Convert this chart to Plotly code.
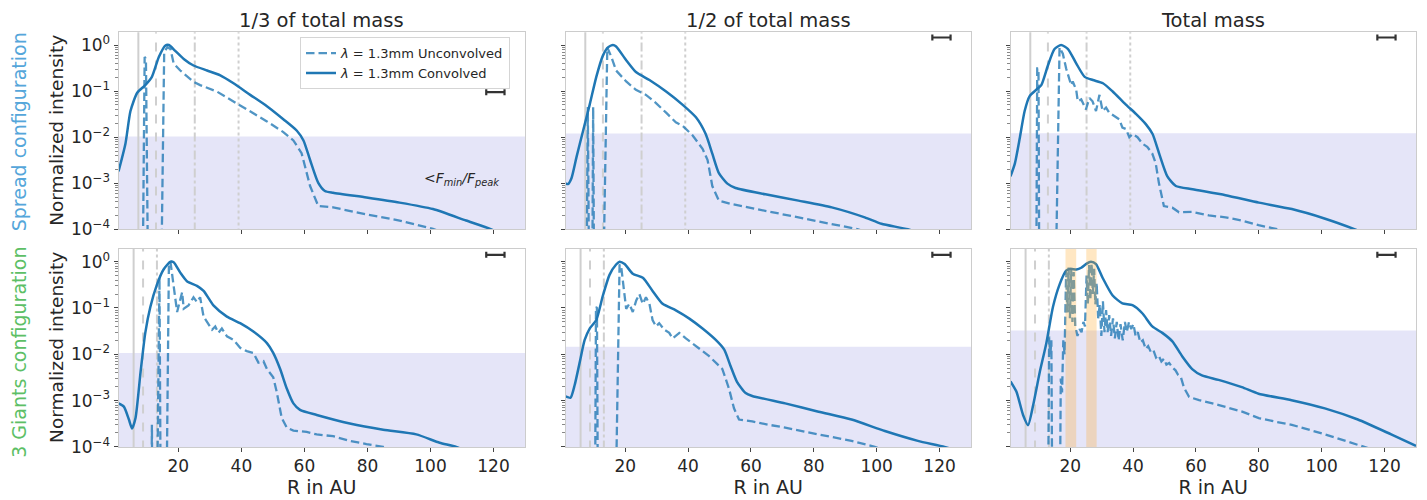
import plotly.graph_objects as go

# ---------------- text ----------------
COLUMN_TITLES = ["1/3 of total mass", "1/2 of total mass", "Total mass"]
ROW_TITLES = ["Spread configuration", "3 Giants configuration"]
ROW_COLORS = ["#55a6da", "#5dbf66"]
Y_TITLE = "Normalized intensity"
X_TITLE = "R in AU"
LEGEND_NAMES = ["<i>λ</i> = 1.3mm Unconvolved", "<i>λ</i> = 1.3mm Convolved"]
THRESH_LABEL = "<i>&lt;F<sub>min</sub>/F<sub>peak</sub></i>"

X_TICKS = [20, 40, 60, 80, 100, 120]
Y_TICK_VALUES = [1e-4, 1e-3, 1e-2, 1e-1, 1.0]
Y_TICK_LABELS = ["10<sup>−4</sup>", "10<sup>−3</sup>", "10<sup>−2</sup>", "10<sup>−1</sup>", "10<sup>0</sup>"]
Y_MINOR_VALUES = [k * 10.0 ** e for e in range(-4, 1) for k in range(2, 10)]

# planet positions (AU) and their line styles
SPREAD_PLANETS = [7.3, 12.9, 25.2, 39.1]
GIANTS_PLANETS = [5.8, 8.8, 13.2]
PLANET_STYLES = ["solid", "dash", "dashdot", "dot"]

# sensitivity threshold F_min/F_peak per panel (row-major)
THRESHOLDS = [0.0104, 0.0120, 0.0122, 0.0106, 0.0146, 0.0325]
# gaps highlighted in bottom-right panel
GAP_BANDS = [[18.5, 21.9], [25.1, 28.4]]
# beam size marker (AU)
BEAM_CENTER = 120.6
BEAM_HALF = 2.9
BEAM_Y = [0.095, 1.46, 1.46, 1.41, 1.41, 1.41]

# ---------------- data ----------------
# Spread configuration, 1/3 mass
tl_conv_r = [1.0, 3.2, 4.8, 6.9, 9.5, 11.6, 13.8, 15.9, 17.0, 18.9, 21.7, 24.8, 29.1, 33.3, 37.5, 42.8, 48.1, 53.3, 57.6, 59.7, 61.8, 64.4, 66.5, 69.1, 79.7, 90.2, 100.8, 111.3, 119.3, 125.0]
tl_conv_i = [1.8e-3, 7.2e-3, 0.037, 0.091, 0.135, 0.204, 0.55, 0.98, 1.0, 0.76, 0.50, 0.36, 0.28, 0.22, 0.148, 0.083, 0.047, 0.0245, 0.0138, 8.5e-3, 3.2e-3, 1.02e-3, 6.8e-4, 6.2e-4, 4.9e-4, 3.8e-4, 2.75e-4, 1.55e-4, 1.0e-4, 6.3e-5]
tl_unconv_r = [8.3, 9.3, 9.7, 10.8, 14.0, 15.5, 16.5, 17.5, 18.5, 20.6, 24.8, 26.9, 32.2, 37.5, 42.8, 48.1, 53.3, 56.5, 59.1, 61.8, 64.4, 69.1, 79.7, 90.2, 100.8, 104.0]
tl_unconv_i = [1e-8, 0.55, 0.5, 1e-8, 1e-8, 0.7, 0.9, 0.82, 0.40, 0.28, 0.16, 0.135, 0.098, 0.060, 0.037, 0.022, 0.0129, 8.5e-3, 4.5e-3, 8.7e-4, 3.2e-4, 3.0e-4, 2.1e-4, 1.55e-4, 1.02e-4, 8.5e-5]

# Spread configuration, 1/2 mass
tm_conv_r = [1.0, 1.8, 2.9, 4.5, 6.6, 8.7, 10.8, 12.9, 14.5, 16.1, 17.1, 20.3, 23.4, 27.7, 33.0, 38.2, 42.5, 45.6, 47.7, 49.8, 52.5, 55.1, 64.6, 75.1, 85.7, 96.2, 101.5, 109.9, 116.0]
tm_conv_i = [1.0e-3, 9.6e-4, 1.29e-3, 3.7e-3, 0.0138, 0.051, 0.204, 0.59, 0.89, 1.0, 0.93, 0.47, 0.26, 0.174, 0.098, 0.051, 0.027, 0.0117, 4.4e-3, 1.66e-3, 9.8e-4, 7.9e-4, 5.75e-4, 4.2e-4, 3.0e-4, 1.82e-4, 1.32e-4, 1.0e-4, 7.1e-5]
tm_unconv_r = [7.4, 8.1, 8.8, 9.3, 9.8, 10.3, 12.3, 14.3, 15.6, 17.1, 20.3, 23.4, 26.6, 29.8, 33.0, 36.1, 38.2, 41.4, 44.6, 46.2, 47.7, 49.8, 54.1, 64.6, 75.1, 85.7, 94.1, 98.0]
tm_unconv_i = [1e-8, 0.045, 1e-8, 1e-8, 0.045, 1e-8, 1e-8, 0.89, 0.55, 0.28, 0.162, 0.107, 0.083, 0.055, 0.034, 0.021, 0.0178, 0.011, 5.6e-3, 3.2e-3, 8.7e-4, 4.2e-4, 3.5e-4, 2.5e-4, 1.82e-4, 1.32e-4, 1.0e-4, 7.9e-5]

# Spread configuration, total mass
tr_conv_r = [1.0, 2.4, 4.0, 5.5, 7.1, 9.2, 10.8, 12.9, 15.0, 17.1, 19.3, 21.9, 24.6, 27.2, 30.4, 33.5, 37.7, 40.9, 44.1, 46.2, 48.3, 50.9, 53.6, 58.9, 69.4, 80.0, 90.5, 101.1, 110.6, 116.0]
tr_conv_i = [1.41e-3, 2.7e-3, 0.01, 0.037, 0.078, 0.107, 0.135, 0.36, 0.82, 1.0, 0.82, 0.40, 0.204, 0.174, 0.148, 0.098, 0.051, 0.032, 0.019, 0.0117, 4.4e-3, 1.41e-3, 8.7e-4, 7.4e-4, 5.5e-4, 3.8e-4, 2.75e-4, 1.7e-4, 1.0e-4, 7.1e-5]
tr_unconv_r = [9.0, 9.5, 9.9, 10.3, 14.7, 16.6, 17.65, 18.7, 20.3, 20.8, 21.9, 22.4, 23.5, 25.0, 26.1, 27.1, 28.2, 29.3, 30.3, 31.4, 32.4, 34.0, 35.6, 36.6, 37.7, 38.8, 39.8, 41.4, 43.0, 44.5, 46.1, 47.2, 48.2, 49.8, 52.5, 54.6, 58.8, 64.1, 69.4, 74.6, 79.9, 86.2, 92.0]
tr_unconv_i = [1e-8, 0.31, 0.31, 1e-8, 1e-8, 0.89, 0.65, 0.31, 0.135, 0.162, 0.107, 0.060, 0.066, 0.040, 0.071, 0.060, 0.037, 0.083, 0.037, 0.044, 0.034, 0.029, 0.0245, 0.0162, 0.0151, 0.010, 0.0117, 0.010, 7.2e-3, 6.2e-3, 4.4e-3, 2.7e-3, 1.02e-3, 3.2e-4, 2.95e-4, 2.35e-4, 2.4e-4, 2.0e-4, 1.82e-4, 1.55e-4, 1.23e-4, 1.0e-4, 8e-5]

# 3 Giants configuration, 1/3 mass
bl_conv_r = [1.0, 2.7, 4.3, 5.3, 6.4, 8.0, 9.5, 11.1, 13.2, 15.3, 17.5, 18.5, 20.6, 22.7, 25.9, 28.0, 31.2, 35.4, 39.6, 43.8, 48.1, 50.1, 52.3, 54.4, 56.5, 58.6, 63.9, 74.4, 85.0, 95.5, 102.9, 108.2, 114.0]
bl_conv_i = [8.7e-4, 7.4e-4, 3.9e-4, 2.5e-4, 4.2e-4, 4.1e-3, 0.029, 0.105, 0.32, 0.68, 1.0, 0.97, 0.58, 0.38, 0.30, 0.234, 0.112, 0.065, 0.047, 0.031, 0.0174, 0.0107, 4.8e-3, 1.82e-3, 8.7e-4, 6.3e-4, 4.9e-4, 3.2e-4, 2.35e-4, 1.86e-4, 1.23e-4, 1.0e-4, 6.5e-5]
bl_unconv_r = [11.2, 11.6, 12.0, 12.8, 14.0, 14.6, 15.8, 17.0, 17.5, 18.5, 19.6, 21.2, 21.7, 23.2, 24.8, 25.9, 26.9, 28.0, 29.1, 30.7, 31.7, 32.7, 33.8, 35.4, 37.5, 39.6, 41.7, 43.8, 45.4, 47.0, 48.1, 50.1, 51.2, 52.8, 54.4, 56.5, 60.7, 63.9, 69.1, 74.4, 79.7, 85.0, 90.0]
bl_unconv_i = [1e-8, 3e-4, 1e-8, 1e-8, 0.45, 1e-8, 1e-8, 0.95, 0.98, 0.32, 0.082, 0.22, 0.096, 0.113, 0.17, 0.134, 0.17, 0.065, 0.050, 0.034, 0.040, 0.029, 0.036, 0.0245, 0.0205, 0.0138, 0.0117, 0.0107, 6.6e-3, 7.1e-3, 4.8e-3, 3.2e-3, 1.55e-3, 4.2e-4, 2.6e-4, 2.25e-4, 2.1e-4, 1.86e-4, 1.7e-4, 1.35e-4, 1.15e-4, 1.0e-4, 8e-5]

# 3 Giants configuration, 1/2 mass
bm_conv_r = [1.0, 2.6, 3.9, 5.5, 7.1, 8.7, 10.8, 12.9, 15.0, 17.1, 18.2, 19.8, 22.4, 25.6, 28.7, 31.9, 36.1, 40.4, 44.6, 48.8, 51.5, 53.5, 55.6, 58.3, 60.4, 70.9, 81.5, 92.0, 102.6, 113.1, 121.6, 126.0]
bm_conv_i = [1.23e-3, 1.15e-3, 2.14e-3, 6.6e-3, 0.0204, 0.036, 0.055, 0.186, 0.52, 0.87, 1.0, 0.89, 0.55, 0.45, 0.234, 0.123, 0.089, 0.059, 0.036, 0.0204, 0.0126, 5.6e-3, 2.5e-3, 1.45e-3, 1.26e-3, 8.7e-4, 5.75e-4, 3.9e-4, 2.2e-4, 1.35e-4, 1.0e-4, 8e-5]
bm_unconv_r = [10.2, 10.7, 11.0, 11.5, 16.3, 18.2, 18.7, 19.2, 20.3, 21.3, 22.4, 23.5, 24.5, 25.6, 26.6, 27.7, 28.7, 29.8, 30.8, 32.4, 34.0, 35.1, 37.2, 39.3, 41.4, 44.0, 46.7, 49.3, 50.9, 53.0, 54.6, 56.2, 60.4, 65.7, 70.9, 81.5, 92.0, 99.4, 104.0]
bm_unconv_i = [1e-8, 0.105, 0.1, 1e-8, 1e-8, 0.87, 0.8, 0.38, 0.096, 0.123, 0.082, 0.145, 0.2, 0.123, 0.17, 0.123, 0.055, 0.040, 0.047, 0.034, 0.029, 0.022, 0.029, 0.022, 0.0174, 0.0126, 9.1e-3, 6.0e-3, 4.8e-3, 1.82e-3, 6.8e-4, 3.9e-4, 3.55e-4, 3.0e-4, 2.6e-4, 1.86e-4, 1.35e-4, 1.0e-4, 8e-5]

# 3 Giants configuration, total mass
br_conv_r = [1.0, 2.9, 5.0, 6.6, 8.2, 10.3, 12.4, 14.5, 16.6, 18.7, 20.0, 22.0, 23.5, 25.1, 26.6, 28.2, 30.3, 33.5, 36.6, 39.8, 43.0, 46.1, 49.3, 52.5, 55.6, 58.8, 61.9, 67.2, 74.6, 79.9, 90.4, 101.0, 111.5, 122.1, 130.0]
br_conv_i = [2.6e-3, 1.55e-3, 4.9e-4, 2.95e-4, 7.9e-4, 4.1e-3, 0.0174, 0.105, 0.32, 0.64, 0.70, 0.68, 0.74, 0.9, 1.0, 0.89, 0.45, 0.186, 0.126, 0.115, 0.076, 0.040, 0.029, 0.019, 9.1e-3, 4.8e-3, 3.5e-3, 2.8e-3, 1.95e-3, 1.41e-3, 1.02e-3, 6.8e-4, 3.9e-4, 1.86e-4, 1.05e-4]
br_unconv_r = [12.7, 13.3, 13.7, 14.0, 14.5, 16.4, 17.0, 17.4, 17.8, 18.2, 18.7, 19.1, 19.5, 19.9, 20.3, 20.7, 21.1, 21.6, 22.3, 23.0, 23.6, 24.2, 24.7, 25.2, 25.6, 26.0, 26.4, 26.8, 27.2, 27.6, 28.0, 28.4, 28.9, 29.4, 29.9, 30.4, 30.9, 31.4, 31.9, 32.4, 33.0, 33.6, 34.2, 34.8, 35.4, 36.0, 36.7, 37.4, 38.0, 38.7, 39.4, 40.1, 40.8, 41.5, 42.3, 43.1, 44.0, 44.8, 45.7, 46.5, 47.3, 48.1, 49.0, 49.8, 50.6, 51.5, 52.5, 53.5, 54.3, 55.2, 56.2, 57.8, 61.0, 67.3, 74.7, 80.0, 85.3, 90.5, 101.1, 113.7, 118.0]
br_unconv_i = [1e-8, 0.024, 0.01, 0.02, 1e-8, 1e-8, 3e-3, 1.5e-3, 0.02, 0.01, 0.6, 0.08, 0.75, 0.06, 0.7, 0.05, 0.6, 0.04, 0.025, 0.035, 0.03, 0.05, 0.04, 0.5, 0.12, 0.85, 0.15, 0.9, 0.2, 0.7, 0.12, 0.35, 0.06, 0.12, 0.025, 0.14, 0.03, 0.09, 0.03, 0.07, 0.025, 0.06, 0.022, 0.05, 0.02, 0.045, 0.02, 0.05, 0.03, 0.05, 0.035, 0.045, 0.025, 0.03, 0.018, 0.02, 0.013, 0.015, 0.011, 0.012, 8.5e-3, 9.5e-3, 7e-3, 8e-3, 6e-3, 6.5e-3, 5.2e-3, 4.5e-3, 3.6e-3, 3.2e-3, 1.9e-3, 1.2e-3, 1.02e-3, 8e-4, 5.75e-4, 4.2e-4, 3.5e-4, 3.0e-4, 1.86e-4, 1.0e-4, 8e-5]

PANELS = [
    (tl_conv_r, tl_conv_i, tl_unconv_r, tl_unconv_i),
    (tm_conv_r, tm_conv_i, tm_unconv_r, tm_unconv_i),
    (tr_conv_r, tr_conv_i, tr_unconv_r, tr_unconv_i),
    (bl_conv_r, bl_conv_i, bl_unconv_r, bl_unconv_i),
    (bm_conv_r, bm_conv_i, bm_unconv_r, bm_unconv_i),
    (br_conv_r, br_conv_i, br_unconv_r, br_unconv_i),
]

# ---------------- layout geometry / styles ----------------
W, H = 1427, 500
COL_PX = [(118.5, 525.0), (565.5, 971.0), (1010.5, 1416.0)]
ROW_PX = [(33.0, 234.0), (254.0, 456.0)]
X_RANGE = [1.0, 130.0]
Y_RANGE_LOG = [-4.0, 0.276]
Y_FAR_LOW, Y_FAR_HIGH = 1e-6, 10.0

BLUE = "#1f77b4"
BLUE_DASH = "rgba(31,119,180,0.78)"
PLANET_COLOR = "#cfcfcf"
SHADE = "#e5e5f8"
BAND = "rgba(255,170,40,0.28)"
TEXT = "#262626"
FONT = "DejaVu Sans"

fig = go.Figure()
layout_axes = {}

for idx, (cr, ci, ur, ui) in enumerate(PANELS):
    row, col = divmod(idx, 3)
    n = idx + 1
    xa = "x" if n == 1 else f"x{n}"
    ya = "y" if n == 1 else f"y{n}"
    x0, x1 = COL_PX[col]
    y0, y1 = ROW_PX[row]

    # shaded "below sensitivity" region
    fig.add_trace(go.Scatter(
        x=[X_RANGE[0] - 5, X_RANGE[1] + 5, X_RANGE[1] + 5, X_RANGE[0] - 5],
        y=[Y_FAR_LOW, Y_FAR_LOW, THRESHOLDS[idx], THRESHOLDS[idx]],
        fill="toself", fillcolor=SHADE, mode="none", showlegend=False,
        hoverinfo="skip", xaxis=xa, yaxis=ya))

    planets = SPREAD_PLANETS if row == 0 else GIANTS_PLANETS
    for p, style in zip(planets, PLANET_STYLES):
        fig.add_trace(go.Scatter(
            x=[p, p], y=[Y_FAR_LOW, Y_FAR_HIGH], mode="lines",
            line=dict(color=PLANET_COLOR, width=2, dash=style),
            showlegend=False, hoverinfo="skip", xaxis=xa, yaxis=ya))

    fig.add_trace(go.Scatter(
        x=ur, y=ui, mode="lines", name=LEGEND_NAMES[0],
        line=dict(color=BLUE_DASH, width=2.3, dash="8.5px,4px"),
        showlegend=(idx == 0), xaxis=xa, yaxis=ya))
    fig.add_trace(go.Scatter(
        x=cr, y=ci, mode="lines", name=LEGEND_NAMES[1],
        line=dict(color=BLUE, width=2.5, shape="spline", smoothing=0.6),
        showlegend=(idx == 0), xaxis=xa, yaxis=ya))

    if idx == 5:
        for b0, b1 in GAP_BANDS:
            fig.add_trace(go.Scatter(
                x=[b0, b1, b1, b0], y=[Y_FAR_LOW, Y_FAR_LOW, Y_FAR_HIGH, Y_FAR_HIGH],
                fill="toself", fillcolor=BAND, mode="none", showlegend=False,
                hoverinfo="skip", xaxis=xa, yaxis=ya))

    # beam size marker
    fig.add_trace(go.Scatter(
        x=[BEAM_CENTER], y=[BEAM_Y[idx]], mode="markers",
        marker=dict(size=1, color="#333333"),
        error_x=dict(type="data", array=[BEAM_HALF], color="#333333", thickness=2.2, width=3),
        showlegend=False, hoverinfo="skip", xaxis=xa, yaxis=ya))

    xaxis = dict(
        domain=[x0 / W, x1 / W], range=X_RANGE, anchor=ya,
        tickmode="array", tickvals=X_TICKS, showticklabels=(row == 1),
        ticks="outside", ticklen=4, tickwidth=1, tickcolor="#444",
        showline=True, linecolor="#cccccc", linewidth=1, mirror=True,
        showgrid=False, zeroline=False,
        tickfont=dict(size=17, color=TEXT, family=FONT),
    )
    if row == 1:
        xaxis["title"] = dict(text=X_TITLE, standoff=1,
                              font=dict(size=19, color=TEXT, family=FONT))
    layout_axes["xaxis" if n == 1 else f"xaxis{n}"] = xaxis
    layout_axes["yaxis" if n == 1 else f"yaxis{n}"] = dict(
        domain=[1 - y1 / H, 1 - y0 / H], type="log", range=Y_RANGE_LOG, anchor=xa,
        tickmode="array", tickvals=Y_TICK_VALUES, ticktext=Y_TICK_LABELS,
        showticklabels=(col == 0),
        ticks="outside", ticklen=4, tickwidth=1, tickcolor="#444",
        minor=dict(tickmode="array", tickvals=Y_MINOR_VALUES, ticks="outside",
                   ticklen=2.5, tickwidth=0.8, tickcolor="#888", showgrid=False),
        showline=True, linecolor="#cccccc", linewidth=1, mirror=True,
        showgrid=False, zeroline=False,
        tickfont=dict(size=17, color=TEXT, family=FONT),
    )

annotations = []
for col, title in enumerate(COLUMN_TITLES):
    x0, x1 = COL_PX[col]
    annotations.append(dict(
        text=title, x=(x0 + x1) / 2 / W, y=1 - 21 / H, xref="paper", yref="paper",
        xanchor="center", yanchor="middle", showarrow=False,
        font=dict(size=19.5, color=TEXT, family=FONT)))
for row, (rt, rc) in enumerate(zip(ROW_TITLES, ROW_COLORS)):
    y0, y1 = ROW_PX[row]
    yc = 1 - (y0 + y1) / 2 / H
    annotations.append(dict(
        text=Y_TITLE, x=57 / W, y=yc, xref="paper", yref="paper",
        xanchor="center", yanchor="middle", textangle=-90, showarrow=False,
        font=dict(size=18.5, color=TEXT, family=FONT)))
    annotations.append(dict(
        text=rt, x=19 / W, y=yc - (0.003 if row == 0 else 0.01), xref="paper", yref="paper",
        xanchor="center", yanchor="middle", textangle=-90, showarrow=False,
        font=dict(size=19, color=rc, family=FONT)))
annotations.append(dict(
    text=THRESH_LABEL, x=110, y=-2.91, xref="x", yref="y",
    xanchor="center", yanchor="middle", showarrow=False,
    font=dict(size=14, color=TEXT, family=FONT)))

fig.update_layout(
    width=W, height=H,
    margin=dict(l=0, r=0, t=0, b=0),
    paper_bgcolor="white", plot_bgcolor="white",
    font=dict(family=FONT, color=TEXT),
    showlegend=True,
    legend=dict(x=510 / W, y=1 - 38 / H, xanchor="right", yanchor="top",
                bgcolor="rgba(255,255,255,0.85)", bordercolor="#d5d5d5", borderwidth=1,
                font=dict(size=13, color=TEXT, family=FONT), tracegroupgap=0,
                itemwidth=30),
    annotations=annotations,
    **layout_axes,
)

FIX_PAGE = (
    "var h=document.documentElement, b=document.body;"
    "h.style.margin='0'; h.style.padding='0'; h.style.overflow='hidden'; h.style.height='500px';"
    "b.style.margin='0'; b.style.padding='0'; b.style.overflow='hidden'; b.style.height='500px';"
    "var gd=document.getElementsByClassName('plotly-graph-div')[0];"
    "if(gd && gd.parentElement){gd.parentElement.style.height='500px';gd.parentElement.style.overflow='hidden';}"
)

fig.write_html("out.html", config={"displayModeBar": False}, post_script=FIX_PAGE)
